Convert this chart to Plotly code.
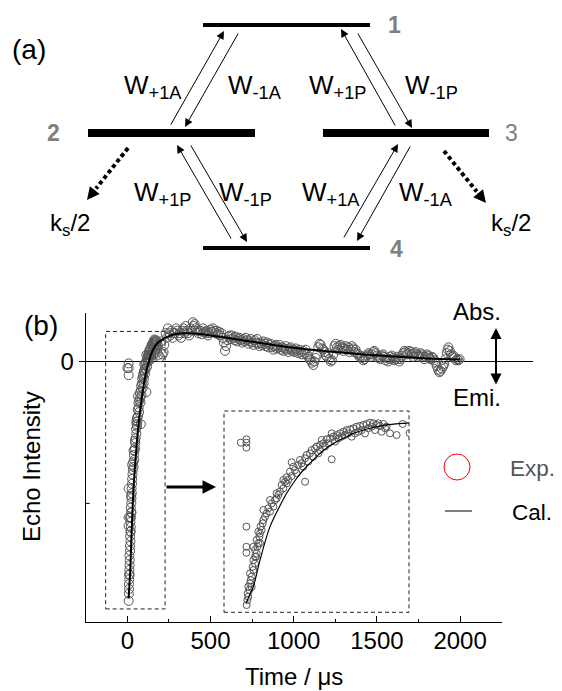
import plotly.graph_objects as go

FONT = "Liberation Sans, Arial, sans-serif"
FIG_W, FIG_H = 562, 691
PAGE_OFF = 8  # default page margin around the plot div

# ---------------- data (time in microseconds, intensity in arb. units) ----------------
rise_t = [1, 8, 8, 8, 8, 8, 8,
          8.3, 9.2, 10.4, 9.6, 11.7, 10.4, 12.5, 13.3, 14.6, 12.5,
          16.7, 15.8, 18.8, 16.7, 20, 20.8, 18.8, 21.7, 22.9, 20.8,
          24.2, 25, 22.9, 27.1, 25.8, 28.3, 29.2, 31.3, 33.3, 37.5,
          35.4, 41.7, 39.6, 43.8, 45.8, 47.9, 50, 54.2, 52.1, 56.3,
          60.4, 58.3, 64.6, 62.5, 68.8, 66.7, 72.9, 77.1, 75, 81.3,
          83.3, 87.5, 89.6, 93.8, 95.8, 100, 104.2, 102.1, 108.3, 112.5,
          116.7, 114.6, 120.8, 125, 129.2, 133.3, 137.5, 141.7, 145.8, 150,
          154.2, 158.3, 162.5, 166.7, 170.8, 175, 179.2, 183.3, 187.5, 195.8,
          203.3, 64.6, 81.3, 114.6,
          29.2, 37.5, 45.8, 54.2, 58.3, 70.8, 79.2, 85.4, 91.7, 97.9,
          100, 106.3, 110.4, 118.8, 122.9, 127.1, 131.3, 135.4, 139.6, 143.8,
          147.9, 152.1, 156.3, 160.4, 164.6, 168.8, 172.9, 177.1, 181.3, 25,
          18.8, 14.6, 16.7]
rise_v = [-0.028, -0.008, -0.028, -0.058, -0.537, -0.659, -0.695,
          -1.012, -0.982, -0.962, -0.941, -0.921, -0.901, -0.881, -0.861, -0.840, -0.820,
          -0.800, -0.780, -0.760, -0.739, -0.719, -0.699, -0.679, -0.659, -0.638, -0.618,
          -0.598, -0.578, -0.568, -0.557, -0.537, -0.517, -0.497, -0.477, -0.457, -0.446,
          -0.426, -0.416, -0.396, -0.376, -0.366, -0.345, -0.325, -0.305, -0.285, -0.265,
          -0.254, -0.238, -0.230, -0.204, -0.194, -0.174, -0.164, -0.153, -0.133, -0.123,
          -0.103, -0.093, -0.073, -0.063, -0.052, -0.042, -0.032, -0.012, -0.008, -0.002,
          0.008, 0.028, 0.018, 0.028, 0.038, 0.048, 0.053, 0.059, 0.069, 0.073,
          0.079, 0.085, 0.093, 0.089, 0.079, 0.073, 0.085, 0.069, 0.028, 0.018,
          0.085, -0.147, -0.265, -0.129,
          -0.436, -0.376, -0.335, -0.254, -0.275, -0.214, -0.174, -0.143, -0.113, -0.093,
          -0.073, -0.052, -0.032, -0.022, -0.002, 0.008, 0.018, 0.028, 0.008, 0.028,
          0.038, 0.048, 0.028, 0.059, 0.069, 0.048, 0.089, 0.038, 0.059, -0.638,
          -0.719, -0.901, -0.659]

tail_t = [212, 218, 222, 230, 237, 244, 252, 258, 265, 272,
          280, 287, 294, 301, 308, 316, 323, 330, 337, 344,
          351, 358, 365, 372, 380, 387, 394, 400, 405, 412,
          420, 427, 434, 440, 448, 455, 462, 470, 478, 485,
          492, 500, 508, 515, 522, 530, 537, 544, 552, 559,
          566, 573, 580, 587, 594, 601, 608, 616, 623, 630,
          638, 645, 652, 660, 667, 674, 682, 690, 697, 705,
          712, 720, 728, 735, 742, 750, 758, 765, 772, 780,
          787, 795, 802, 810, 818, 825, 832, 840, 848, 855,
          862, 870, 878, 885, 893, 900, 908, 915, 923, 930,
          938, 945, 952, 960, 968, 975, 982, 990, 998, 1005,
          1012, 1020, 1028, 1035, 1042, 1050, 1058, 1065, 1072, 1080,
          1088, 1095, 1102, 1110, 1118, 1125, 1132, 1140, 1148, 1155,
          1162, 1170, 1178, 1185, 1192, 1200, 1208, 1215, 1222, 1230,
          1238, 1245, 1252, 1260, 1268, 1275, 1282, 1290, 1298, 1305,
          1312, 1320, 1328, 1335, 1342, 1350, 1358, 1365, 1372, 1380,
          1388, 1395, 1402, 1410, 1418, 1425, 1432, 1440, 1448, 1455,
          1462, 1470, 1478, 1485, 1492, 1500, 1508, 1515, 1522, 1530,
          1538, 1545, 1552, 1560, 1568, 1575, 1582, 1590, 1598, 1605,
          1612, 1620, 1628, 1635, 1642, 1650, 1658, 1665, 1672, 1680,
          1688, 1695, 1702, 1710, 1718, 1725, 1732, 1740, 1748, 1755,
          1762, 1770, 1778, 1785, 1792, 1800, 1808, 1815, 1822, 1830,
          1838, 1845, 1852, 1860, 1868, 1875, 1882, 1890, 1898, 1905,
          1912, 1920, 1925, 1930, 1938, 1945, 1952, 1960, 1968, 1975,
          1982, 1990, 1997]
tail_v = [0.030, 0.040, 0.070, 0.120, 0.100, 0.140, 0.120, 0.110, 0.130, 0.100,
          0.120, 0.120, 0.140, 0.130, 0.110, 0.120, 0.100, 0.130, 0.140, 0.120,
          0.150, 0.130, 0.120, 0.110, 0.140, 0.130, 0.166, 0.150, 0.158, 0.140,
          0.130, 0.120, 0.130, 0.130, 0.115, 0.140, 0.125, 0.120, 0.130, 0.110,
          0.120, 0.135, 0.125, 0.140, 0.130, 0.120, 0.130, 0.115, 0.125, 0.110,
          0.120, 0.100, 0.080, 0.045, 0.065, 0.090, 0.105, 0.110, 0.095, 0.110,
          0.100, 0.090, 0.105, 0.085, 0.095, 0.100, 0.090, 0.080, 0.095, 0.085,
          0.100, 0.090, 0.075, 0.085, 0.095, 0.080, 0.070, 0.090, 0.080, 0.095,
          0.075, 0.065, 0.080, 0.070, 0.085, 0.075, 0.065, 0.080, 0.060, 0.070,
          0.075, 0.060, 0.050, 0.065, 0.070, 0.055, 0.060, 0.070, 0.050, 0.060,
          0.045, 0.055, 0.065, 0.050, 0.040, 0.055, 0.060, 0.045, 0.050, 0.040,
          0.055, 0.045, 0.035, 0.050, 0.040, 0.030, 0.045, 0.035, 0.050, 0.030,
          0.020, 0.010, 0.005, -0.005, -0.015, 0.000, 0.015, 0.030, 0.060, 0.075,
          0.070, 0.055, 0.050, 0.040, 0.025, 0.020, 0.035, 0.010, 0.000, 0.005,
          0.030, 0.065, 0.075, 0.060, 0.050, 0.065, 0.070, 0.060, 0.045, 0.055,
          0.065, 0.050, 0.060, 0.040, 0.050, 0.065, 0.055, 0.040, 0.050, 0.035,
          0.030, 0.020, 0.025, 0.015, 0.005, 0.010, 0.020, 0.025, 0.035, 0.030,
          0.020, 0.030, 0.040, 0.045, 0.035, 0.025, 0.015, 0.020, 0.010, 0.025,
          0.030, 0.020, 0.005, 0.015, 0.000, 0.010, 0.020, 0.025, 0.015, 0.005,
          0.010, 0.020, 0.010, 0.000, 0.010, 0.025, 0.035, 0.045, 0.040, 0.030,
          0.035, 0.045, 0.040, 0.030, 0.020, 0.035, 0.040, 0.030, 0.020, 0.025,
          0.035, 0.030, 0.020, 0.010, 0.020, 0.030, 0.025, 0.015, 0.010, 0.020,
          0.015, 0.005, -0.005, -0.020, -0.035, -0.045, -0.040, -0.030, -0.020, -0.010,
          0.010, 0.035, 0.050, 0.060, 0.045, 0.030, 0.020, 0.025, 0.015, 0.005,
          0.010, 0.005, 0.010]

calc_t = [8, 12, 16.7, 25, 37.5, 50, 58.3, 70, 79.2, 90, 100, 110, 120.8, 130,
          141.7, 152, 162.5, 173, 183.3, 195, 204, 230, 260, 300, 350, 400, 500,
          600, 700, 800, 900, 1000, 1200, 1400, 1600, 1800, 2000]
calc_v = [-1.0, -0.95, -0.90, -0.74, -0.537, -0.41, -0.335, -0.25, -0.194, -0.14,
          -0.093, -0.055, -0.022, 0.0, 0.028, 0.045, 0.059, 0.070, 0.079, 0.085,
          0.089, 0.100, 0.110, 0.117, 0.119, 0.118, 0.110, 0.100, 0.089, 0.078,
          0.068, 0.058, 0.043, 0.031, 0.021, 0.013, 0.008]

x_tick_vals = [0, 500, 1000, 1500, 2000]
x_tick_text = ["0", "500", "1000", "1500", "2000"]
y_tick_vals = [0]
y_tick_text = ["0"]
y_minor_vals = [-0.6]

exp_t = rise_t + tail_t
exp_v = rise_v + tail_v

# ---------------- layout geometry (page pixels) ----------------
MAIN_X = (85.7, 501.7)          # left, right of main plot area
MAIN_Y = (313.0, 621.7)         # top, bottom
INSET_X = (224.0, 409.0)
INSET_Y = (411.0, 612.3)
X_RANGE = [-250, 2250]
Y_RANGE = [-1.100, 0.205]
INSET_XR = [-20, 211.25]
INSET_YR = [-1.056, 0.1636]
ZOOM_BOX = dict(x0=-130, x1=227, y0=-1.046, y1=0.127)


def px(x):
    return (x - PAGE_OFF) / FIG_W


def py(y):
    return (FIG_H - (y - PAGE_OFF)) / FIG_H


# level diagram (a): page pixel coordinates
levels = [  # x0, x1, y, thickness
    (203, 370, 25, 4), (88, 255, 133, 8), (323, 489, 133, 8), (203, 370, 248, 4)]
level_labels = [("1", 394, 25, True), ("2", 53, 133, True), ("3", 511, 133, False), ("4", 396, 249, True)]
rate_arrows = [  # tail x, tail y, head x, head y
    (170, 126, 224, 31), (239, 32, 185, 127),
    (396, 127, 341, 29), (357, 32, 412, 128),
    (232, 240, 177, 145), (190, 144, 247, 242),
    (343, 239, 398, 144), (411, 145, 357, 241)]
rate_labels = [  # text, left x, centre y
    ("W<sub>+1A</sub>", 122, 86), ("W<sub>-1A</sub>", 226, 86),
    ("W<sub>+1P</sub>", 307, 86), ("W<sub>-1P</sub>", 403, 86),
    ("W<sub>+1P</sub>", 132, 193), ("W<sub>-1P</sub>", 217, 193),
    ("W<sub>+1A</sub>", 300, 193), ("W<sub>-1A</sub>", 397, 193)]
decay_arrows = [(128, 148, 87, 200), (444, 151, 486, 203)]
decay_labels = [(70, 224), (511, 224)]

fig = go.Figure()

# main panel
fig.add_trace(go.Scatter(x=exp_t, y=exp_v, mode="markers", xaxis="x", yaxis="y",
                         marker=dict(symbol="circle-open", size=9, color="#555555",
                                     line=dict(width=1, color="#555555")),
                         hoverinfo="skip", showlegend=False))
fig.add_trace(go.Scatter(x=calc_t, y=calc_v, mode="lines", xaxis="x", yaxis="y",
                         line=dict(color="black", width=2, shape="spline"),
                         hoverinfo="skip", showlegend=False))
# inset
fig.add_trace(go.Scatter(x=exp_t, y=exp_v, mode="markers", xaxis="x3", yaxis="y3",
                         marker=dict(symbol="circle-open", size=7, color="#555555",
                                     line=dict(width=1, color="#555555")),
                         hoverinfo="skip", showlegend=False))
fig.add_trace(go.Scatter(x=calc_t, y=calc_v, mode="lines", xaxis="x3", yaxis="y3",
                         line=dict(color="black", width=1.2, shape="spline"),
                         hoverinfo="skip", showlegend=False))
# pixel overlay axis carrier
fig.add_trace(go.Scatter(x=[100], y=[100], mode="markers", xaxis="x2", yaxis="y2",
                         marker=dict(opacity=0), hoverinfo="skip", showlegend=False))

shapes = []
annotations = []

# zero line
shapes.append(dict(type="line", xref="paper", yref="y", x0=px(MAIN_X[0]), x1=px(533),
                   y0=0, y1=0, line=dict(color="black", width=1.2), layer="below"))
# inside minor tick on the y axis
for v in y_minor_vals:
    shapes.append(dict(type="line", xref="paper", yref="y", x0=px(MAIN_X[0]), x1=px(MAIN_X[0] + 4),
                       y0=v, y1=v, line=dict(color="black", width=1)))
# dashed zoom box & inset frame
shapes.append(dict(type="rect", xref="x", yref="y", **ZOOM_BOX,
                   line=dict(color="#222222", width=1, dash="4px,3px")))
shapes.append(dict(type="rect", xref="paper", yref="paper",
                   x0=px(INSET_X[0]), x1=px(INSET_X[1]), y0=py(INSET_Y[1]), y1=py(INSET_Y[0]),
                   line=dict(color="#222222", width=1, dash="4px,3px")))
# arrow from box to inset
annotations.append(dict(xref="x2", yref="y2", axref="x2", ayref="y2", x=216, y=487, ax=165, ay=487,
                        text="", showarrow=True, arrowhead=2, arrowsize=0.9, arrowwidth=3,
                        arrowcolor="black", standoff=0))
# Abs./Emi. double arrow
annotations.append(dict(xref="x2", yref="y2", axref="x2", ayref="y2", x=496, y=328, ax=496, ay=386,
                        text="", showarrow=True, arrowhead=2, startarrowhead=2, arrowside="end+start",
                        arrowsize=1.1, startarrowsize=1.1, arrowwidth=2, arrowcolor="black",
                        standoff=0, startstandoff=0))
annotations.append(dict(xref="x2", yref="y2", x=477, y=311, text="Abs.", showarrow=False,
                        font=dict(size=24, color="black")))
annotations.append(dict(xref="x2", yref="y2", x=477, y=397, text="Emi.", showarrow=False,
                        font=dict(size=24, color="black")))
# legend
shapes.append(dict(type="circle", xref="x2", yref="y2", x0=444, x1=470, y0=454, y1=480,
                   line=dict(color="red", width=1)))
annotations.append(dict(xref="x2", yref="y2", x=508, y=468, xanchor="left", text="Exp.",
                        showarrow=False, font=dict(size=22.5, color="#555555")))
shapes.append(dict(type="line", xref="x2", yref="y2", x0=445, x1=472, y0=511, y1=511,
                   line=dict(color="#555555", width=1.5)))
annotations.append(dict(xref="x2", yref="y2", x=510, y=512, xanchor="left", text="Cal.",
                        showarrow=False, font=dict(size=22.5, color="black")))
# axis titles and panel labels
annotations.append(dict(xref="x2", yref="y2", x=294, y=676, text="Time / μs", showarrow=False,
                        font=dict(size=24, color="black")))
annotations.append(dict(xref="x2", yref="y2", x=31, y=467, text="Echo Intensity", textangle=-90,
                        showarrow=False, font=dict(size=24, color="black")))
annotations.append(dict(xref="x2", yref="y2", x=41, y=325, text="(b)", showarrow=False,
                        font=dict(size=28, color="black")))
annotations.append(dict(xref="x2", yref="y2", x=29, y=49, text="(a)", showarrow=False,
                        font=dict(size=28, color="black")))

# level diagram
for x0, x1, y, w in levels:
    shapes.append(dict(type="line", xref="x2", yref="y2", x0=x0, x1=x1, y0=y, y1=y,
                       line=dict(color="black", width=w)))
for txt, x, y, bold in level_labels:
    annotations.append(dict(xref="x2", yref="y2", x=x, y=y, showarrow=False,
                            text=f"<b>{txt}</b>" if bold else txt,
                            font=dict(size=23, color="#808080")))
for tx, ty, hx, hy in rate_arrows:
    annotations.append(dict(xref="x2", yref="y2", axref="x2", ayref="y2", x=hx, y=hy, ax=tx, ay=ty,
                            text="", showarrow=True, arrowhead=2, arrowsize=1.6, arrowwidth=1,
                            arrowcolor="black", standoff=0))
for txt, x, y in rate_labels:
    annotations.append(dict(xref="x2", yref="y2", x=x, y=y, xanchor="left", yanchor="middle",
                            text=txt, showarrow=False, font=dict(size=26, color="black")))
for tx, ty, hx, hy in decay_arrows:
    bx = hx - (hx - tx) * 0.22
    by = hy - (hy - ty) * 0.22
    shapes.append(dict(type="line", xref="x2", yref="y2", x0=tx, y0=ty, x1=bx, y1=by,
                       line=dict(color="black", width=4, dash="4px,3px")))
    annotations.append(dict(xref="x2", yref="y2", axref="x2", ayref="y2", x=hx, y=hy, ax=bx, ay=by,
                            text="", showarrow=True, arrowhead=2, arrowsize=2.5, arrowwidth=1,
                            arrowcolor="black", standoff=0))
for x, y in decay_labels:
    annotations.append(dict(xref="x2", yref="y2", x=x, y=y, showarrow=False,
                            text="k<sub>s</sub>/2", font=dict(size=24, color="black")))

axis_common = dict(showgrid=False, zeroline=False, showline=True, linecolor="black", linewidth=1,
                   tickcolor="black", tickwidth=1, tickfont=dict(size=24, color="black", family=FONT))

fig.update_layout(
    width=FIG_W, height=FIG_H, margin=dict(l=0, r=0, t=0, b=0), template="none",
    paper_bgcolor="white", plot_bgcolor="rgba(0,0,0,0)", showlegend=False,
    font=dict(family=FONT, size=24, color="black"),
    xaxis=dict(domain=[px(MAIN_X[0]), px(MAIN_X[1])], range=X_RANGE, anchor="y",
               tickmode="array", tickvals=x_tick_vals, ticktext=x_tick_text,
               ticks="inside", ticklen=6, ticklabelstandoff=-3,
               minor=dict(dtick=250, tick0=0, ticks="inside", ticklen=3, tickcolor="black",
                          showgrid=False),
               **axis_common),
    yaxis=dict(domain=[py(MAIN_Y[1]), py(MAIN_Y[0])], range=Y_RANGE, anchor="x",
               tickmode="array", tickvals=y_tick_vals, ticktext=y_tick_text,
               ticks="outside", ticklen=6,
               **axis_common),
    xaxis2=dict(domain=[0, 1], range=[PAGE_OFF, FIG_W + PAGE_OFF], anchor="y2", visible=False),
    yaxis2=dict(domain=[0, 1], range=[FIG_H + PAGE_OFF, PAGE_OFF], anchor="x2", visible=False),
    xaxis3=dict(domain=[px(INSET_X[0]), px(INSET_X[1])], range=INSET_XR, anchor="y3", visible=False),
    yaxis3=dict(domain=[py(INSET_Y[1]), py(INSET_Y[0])], range=INSET_YR, anchor="x3", visible=False),
    shapes=shapes, annotations=annotations,
)

fig.write_html("out.html")
